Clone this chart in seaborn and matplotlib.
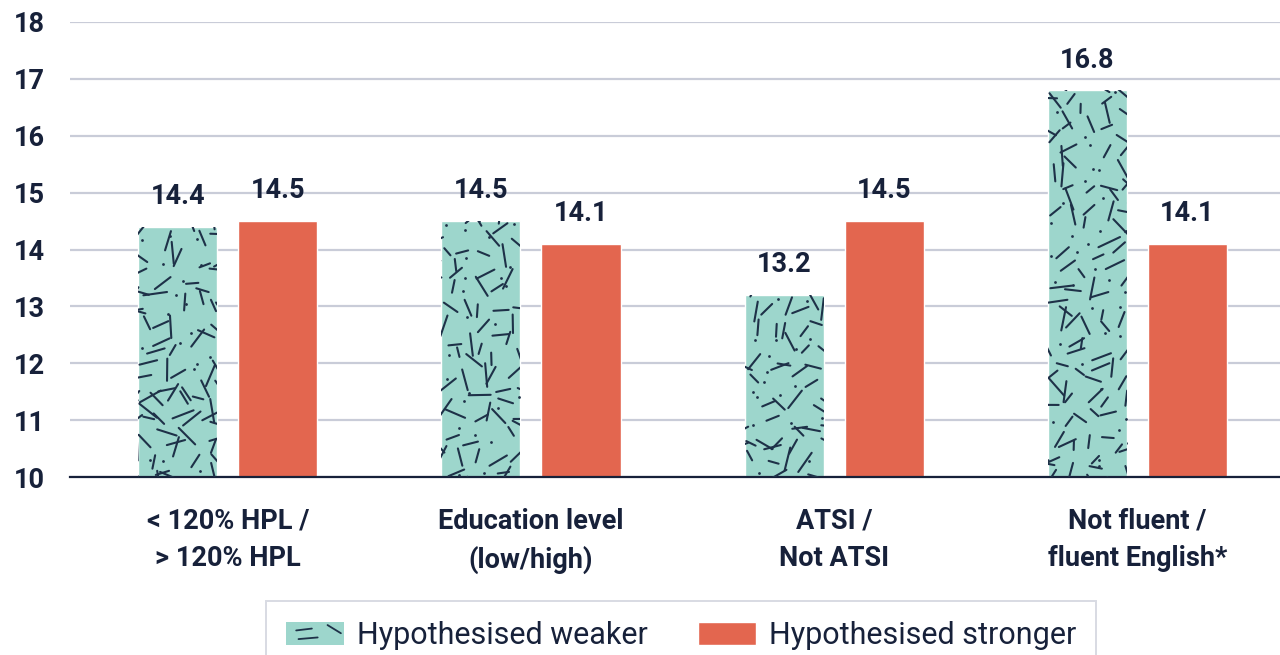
import numpy as np
import pandas as pd
import matplotlib
matplotlib.use("Agg")
import matplotlib.pyplot as plt
import seaborn as sns
from matplotlib.collections import LineCollection
from matplotlib.transforms import IdentityTransform
from matplotlib.patches import Rectangle, Patch
from matplotlib.legend_handler import HandlerPatch
from matplotlib.lines import Line2D

# ---- data ----
categories = ["< 120% HPL /\n> 120% HPL", "Education level\n(low/high)",
              "ATSI /\nNot ATSI", "Not fluent /\nfluent English*"]
series_names = ["Hypothesised weaker", "Hypothesised stronger"]
weaker = [14.4, 14.5, 13.2, 16.8]
stronger = [14.5, 14.1, 14.5, 14.1]
y_ticks = [10, 11, 12, 13, 14, 15, 16, 17, 18]

TEAL = "#9dd6cc"
ORANGE = "#e3664f"
INK = "#17213a"
GRID = "#c9ccd8"
DASH = "#1e3148"

df = pd.DataFrame({
    "group": categories * 2,
    "series": [series_names[0]] * len(categories) + [series_names[1]] * len(categories),
    "score": weaker + stronger,
})

sns.set_theme(style="white")
plt.rcParams["font.family"] = ["Roboto", "DejaVu Sans"]
plt.rcParams["text.color"] = INK

fig = plt.figure(figsize=(12.8, 6.55), dpi=100)
ax = fig.add_axes([70 / 1280, 1 - 477 / 655, 1 - 70 / 1280, (477 - 22) / 655])

sns.barplot(data=df, x="group", y="score", hue="series", order=categories,
            hue_order=series_names, palette=[TEAL, ORANGE], width=0.66, gap=0.21,
            saturation=1, ax=ax, legend=False, zorder=2)

ax.set_ylim(10, 18)
ax.set_xlim(-0.52, 3.47)
ax.set_yticks(y_ticks)
ax.set_xlabel("")
ax.set_ylabel("")
ax.grid(axis="y", color=GRID, linewidth=1.6, zorder=0)
ax.set_axisbelow(True)
for s in ["left", "right", "top"]:
    ax.spines[s].set_visible(False)
ax.spines["bottom"].set_color(INK)
ax.spines["bottom"].set_linewidth(1.6)
ax.tick_params(axis="y", length=0, pad=18, labelsize=19.5, labelcolor=INK)
ax.tick_params(axis="x", length=0, pad=22, labelsize=19.5, labelcolor=INK)
for lbl in ax.get_yticklabels():
    lbl.set_fontweight("semibold")
for lbl in ax.get_xticklabels():
    lbl.set_fontweight("semibold")
    lbl.set_linespacing(1.5)

for cont in ax.containers:
    ax.bar_label(cont, fmt="%.1f", padding=12, fontsize=19.5, color=INK,
                 fontweight="semibold")

# ---- scattered dash texture on the "weaker" bars ----
fig.canvas.draw()
renderer = fig.canvas.get_renderer()
rng = np.random.default_rng(11)


def texture_segments(x0, y0, x1, y1, step=16):
    segs, dots = [], []
    for gx in np.arange(x0 - step, x1 + step, step):
        for gy in np.arange(y0 - step, y1 + step, step):
            cx = gx + rng.uniform(0, step)
            cy = gy + rng.uniform(0, step)
            if rng.uniform() < 0.3:
                dots.append((cx, cy))
                continue
            ang = rng.uniform(0, np.pi)
            ln = rng.uniform(9, 24) / 2
            dx, dy = np.cos(ang) * ln, np.sin(ang) * ln
            segs.append([(cx - dx, cy - dy), (cx + dx, cy + dy)])
    return segs, dots


y_floor = ax.get_ylim()[0]
for bar in ax.containers[0]:
    # visible part of the bar, used both for placing and clipping the marks
    visible = Rectangle((bar.get_x(), y_floor), bar.get_width(), bar.get_height() - y_floor,
                        transform=ax.transData)
    bb = visible.get_window_extent(renderer)
    segs, dots = texture_segments(bb.x0, bb.y0, bb.x1, bb.y1)
    lc = LineCollection(segs, colors=DASH, linewidths=1.5, transform=IdentityTransform(),
                        zorder=3, capstyle="round")
    ax.add_collection(lc, autolim=False)
    lc.set_clip_path(visible)
    if dots:
        d = np.array(dots)
        pts = ax.scatter(d[:, 0], d[:, 1], s=4, color=DASH, transform=IdentityTransform(),
                         zorder=3, linewidths=0)
        pts.set_clip_path(visible)


class TexturedHandler(HandlerPatch):
    def create_artists(self, legend, orig_handle, xdescent, ydescent, width, height,
                       fontsize, trans):
        rect = Rectangle((-xdescent, -ydescent), width, height, facecolor=TEAL,
                         edgecolor="none", transform=trans)
        arts = [rect]
        marks = [((0.18, 0.62), (0.45, 0.70)), ((0.22, 0.25), (0.55, 0.32)),
                 ((0.72, 0.85), (0.95, 0.50))]
        for (ax0, ay0), (ax1, ay1) in marks:
            arts.append(Line2D([-xdescent + ax0 * width, -xdescent + ax1 * width],
                               [-ydescent + ay0 * height, -ydescent + ay1 * height],
                               color=DASH, linewidth=1.3, transform=trans))
        return arts


handles = [Patch(facecolor=TEAL, label=series_names[0]),
           Patch(facecolor=ORANGE, label=series_names[1])]
leg = fig.legend(handles=handles, loc="upper center", bbox_to_anchor=(0.532, 1 - 601 / 655),
                 ncol=2, frameon=True, fontsize=22, handlelength=1.9, handleheight=0.8,
                 handletextpad=0.42, columnspacing=1.65, borderpad=0.65, borderaxespad=0,
                 fancybox=False, handler_map={handles[0]: TexturedHandler()})
leg.get_frame().set_edgecolor("#cfd2dc")
leg.get_frame().set_linewidth(1.4)
for t in leg.get_texts():
    t.set_color(INK)

fig.savefig("out.png", dpi=100)
